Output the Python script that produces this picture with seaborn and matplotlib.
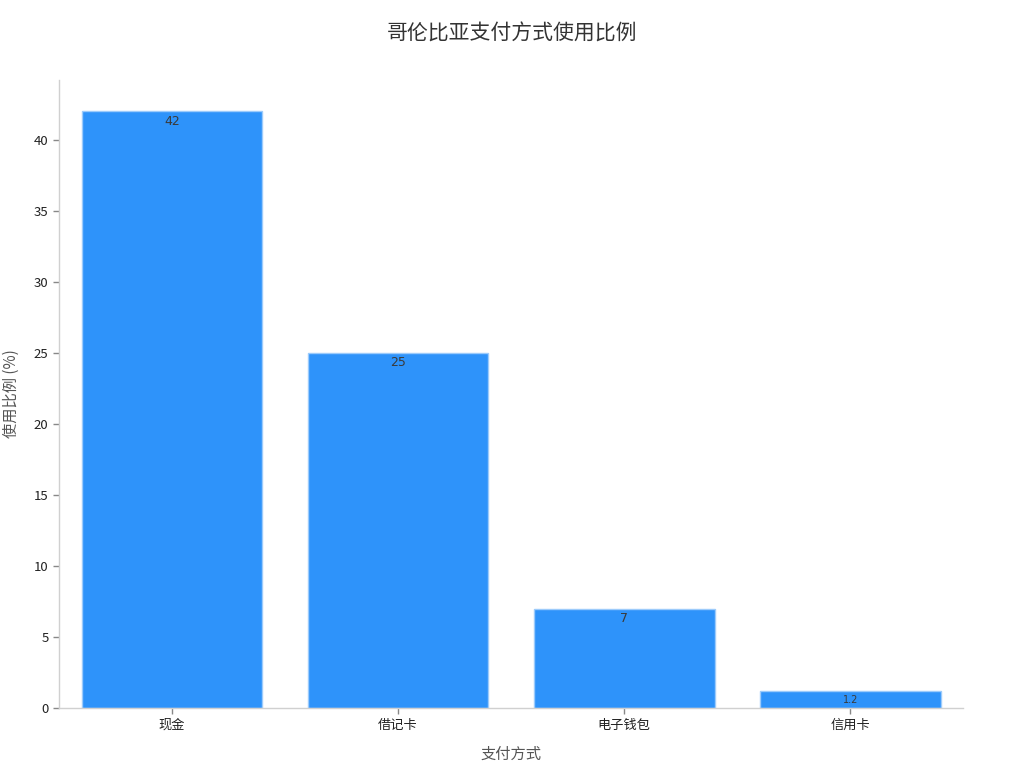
import matplotlib
matplotlib.use('Agg')
import matplotlib.pyplot as plt
import seaborn as sns
import pandas as pd

# chart data
methods = ['现金', '借记卡', '电子钱包', '信用卡']
shares = [42, 25, 7, 1.2]
value_labels = ['42', '25', '7', '1.2']

sns.set_theme(style='white')
plt.rcParams['font.family'] = ['Noto Sans CJK SC', 'DejaVu Sans']

df = pd.DataFrame({'method': methods, 'share': shares})

fig = plt.figure(figsize=(10.24, 7.68), dpi=100)
ax = fig.add_axes([0.0576, 0.078, 0.883, 0.818])

sns.barplot(data=df, x='method', y='share', color='#2E93FA', saturation=1,
            width=0.8, edgecolor='#9CCBFB', linewidth=1, ax=ax)

for i, (v, lab) in enumerate(zip(shares, value_labels)):
    fs = 7 if v < 3 else 9
    ax.text(i, v - 0.25, lab, ha='center', va='top', fontsize=fs, color='#3a3a3a',
            family=['DejaVu Sans'])

ax.set_xlim(-0.5, 3.5)
ax.set_ylim(0, 44.2)
ax.set_yticks([0, 5, 10, 15, 20, 25, 30, 35, 40])

ax.set_xlabel('支付方式', fontsize=11, color='#555555', labelpad=10)
ax.set_ylabel('使用比例 (%)', fontsize=11, color='#555555', labelpad=10)
fig.suptitle('哥伦比亚支付方式使用比例', fontsize=15, color='#333333', y=0.97)

for side in ['top', 'right']:
    ax.spines[side].set_visible(False)
for side in ['left', 'bottom']:
    ax.spines[side].set_color('#d0d0d0')
    ax.spines[side].set_linewidth(1)

ax.tick_params(axis='both', length=4, width=1, color='#888888', labelsize=9.5,
               labelcolor='#222222', left=True, bottom=True)

fig.savefig('out.png', dpi=100)
